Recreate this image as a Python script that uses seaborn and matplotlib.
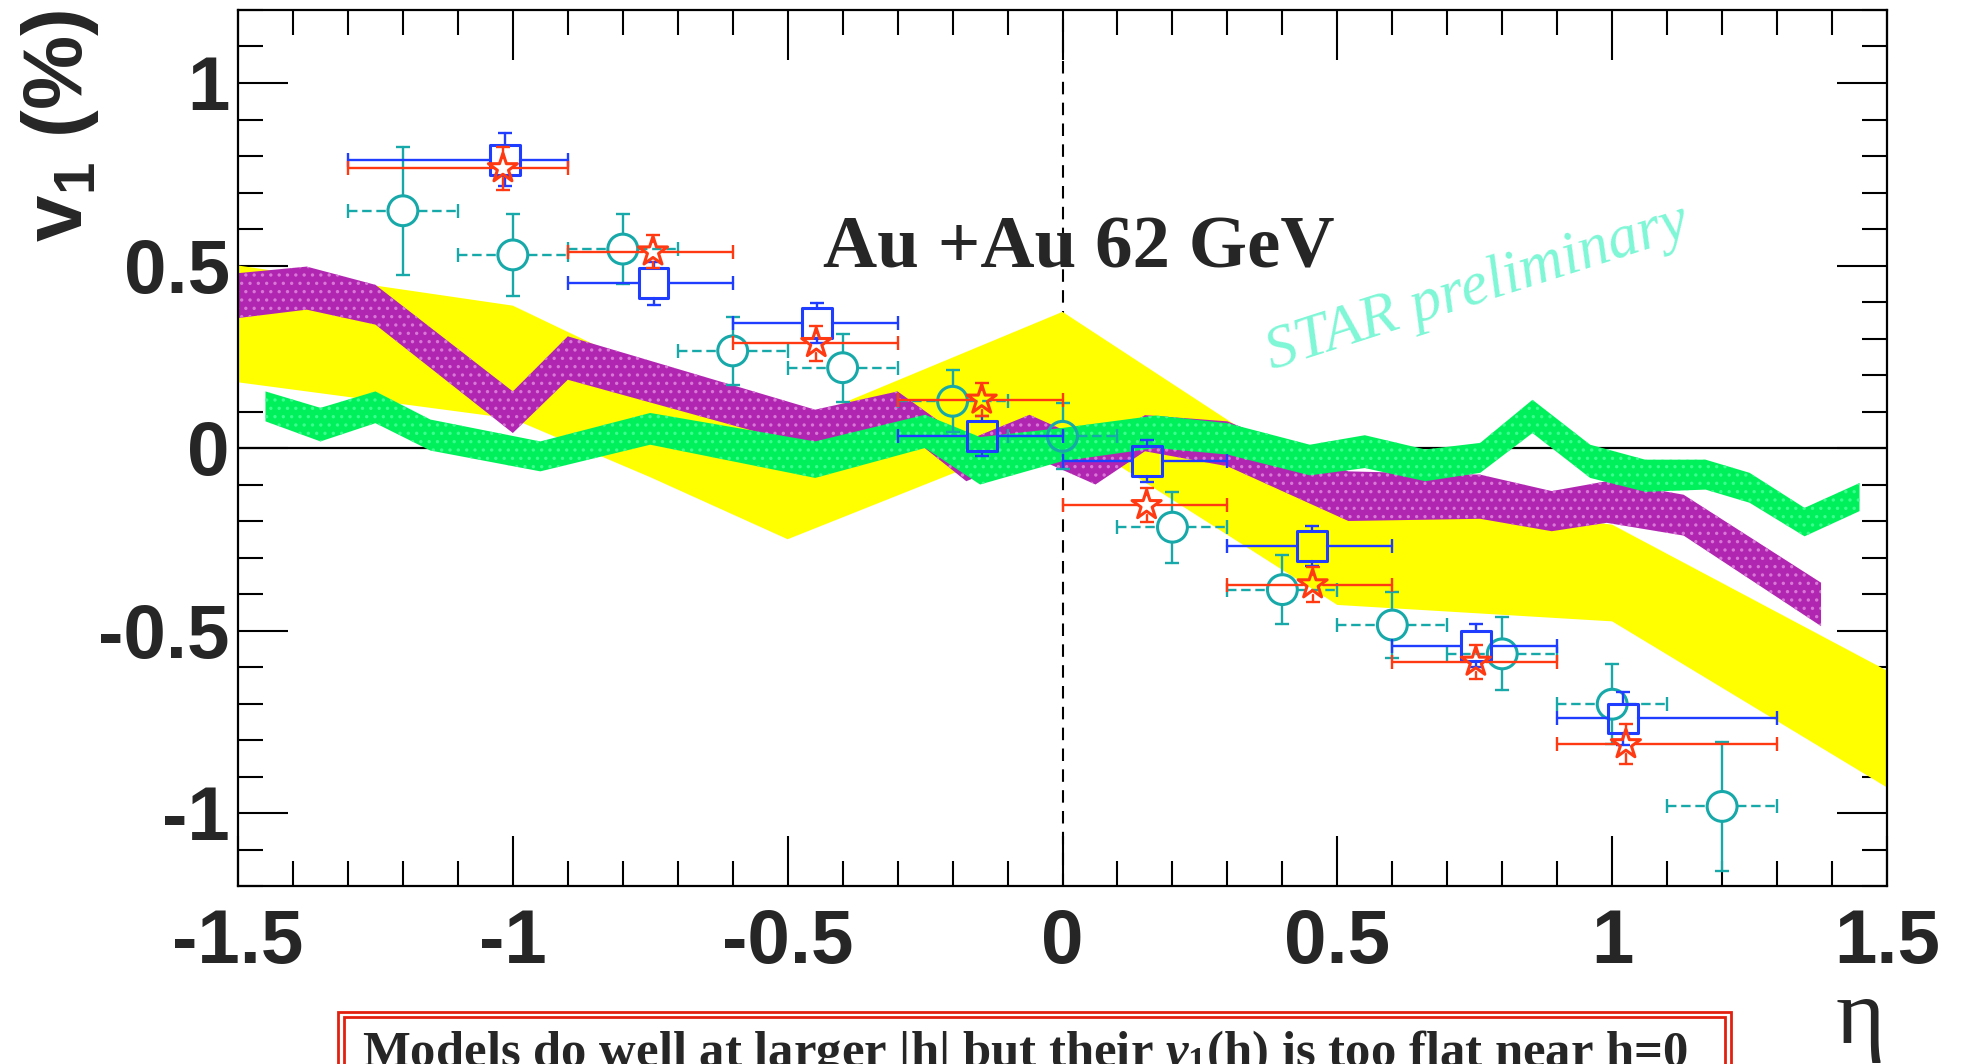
import matplotlib
matplotlib.use("Agg")
import matplotlib.pyplot as plt
import seaborn as sns
import numpy as np
from matplotlib.patches import Rectangle
from matplotlib.ticker import FixedLocator, FixedFormatter, MultipleLocator

# ---------------- data ----------------
# STAR data: cyan open circles
cyan_x = [-1.2, -1.0, -0.8, -0.6, -0.4, -0.2, 0.0, 0.2, 0.4, 0.6, 0.8, 1.0, 1.2]
cyan_y = [0.650, 0.529, 0.545, 0.266, 0.220, 0.128, 0.032, -0.217, -0.388, -0.485, -0.564, -0.702, -0.982]
cyan_yerr = [0.175, 0.112, 0.097, 0.093, 0.093, 0.085, 0.090, 0.097, 0.095, 0.090, 0.100, 0.110, 0.177]
cyan_xerr = [0.1, 0.1, 0.1, 0.1, 0.1, 0.1, 0.1, 0.1, 0.1, 0.1, 0.1, 0.1, 0.1]

# blue open squares
blue_x = [-1.014, -0.744, -0.446, -0.147, 0.154, 0.454, 0.752, 1.020]
blue_y = [0.790, 0.451, 0.342, 0.032, -0.035, -0.269, -0.542, -0.741]
blue_yerr = [0.072, 0.058, 0.055, 0.055, 0.057, 0.055, 0.059, 0.072]
bin_lo = [-1.3, -0.9, -0.6, -0.3, 0.0, 0.3, 0.6, 0.9]
bin_hi = [-0.9, -0.6, -0.3, 0.0, 0.3, 0.6, 0.9, 1.3]

# red open stars
red_x = [-1.018, -0.745, -0.448, -0.147, 0.153, 0.455, 0.752, 1.025]
red_y = [0.766, 0.538, 0.287, 0.132, -0.157, -0.374, -0.586, -0.812]
red_yerr = [0.058, 0.045, 0.048, 0.045, 0.047, 0.047, 0.046, 0.055]

# model bands
yel_x = [-1.5, -1.25, -1.0, -0.75, -0.5, 0.0, 0.5, 1.0, 1.5]
yel_hi = [0.50, 0.445, 0.39, 0.21, 0.06, 0.373, -0.12, -0.21, -0.61]
yel_lo = [0.18, 0.13, 0.08, -0.08, -0.25, 0.05, -0.43, -0.475, -0.93]

pur_x = [-1.5, -1.375, -1.25, -1.0, -0.9, -0.45, -0.3, -0.175, -0.06, 0.06, 0.15, 0.3, 0.52, 0.76, 0.89, 0.99, 1.13, 1.38]
pur_hi = [0.479, 0.497, 0.447, 0.155, 0.306, 0.105, 0.155, 0.02, 0.091, 0.01, 0.09, 0.073, -0.064, -0.073, -0.118, -0.091, -0.128, -0.369]
pur_lo = [0.356, 0.379, 0.338, 0.041, 0.187, 0.0, 0.059, -0.091, -0.02, -0.1, -0.009, -0.05, -0.2, -0.194, -0.228, -0.205, -0.24, -0.488]

grn_x = [-1.45, -1.35, -1.25, -1.15, -0.95, -0.75, -0.45, -0.25, -0.15, 0.0, 0.17, 0.3, 0.45, 0.55, 0.66, 0.76, 0.855, 0.96, 1.06, 1.17, 1.25, 1.35, 1.45]
grn_hi = [0.155, 0.11, 0.155, 0.078, 0.018, 0.096, 0.018, 0.091, 0.03, 0.055, 0.089, 0.068, 0.009, 0.035, -0.004, 0.014, 0.132, 0.009, -0.032, -0.032, -0.068, -0.164, -0.096]
grn_lo = [0.073, 0.018, 0.068, -0.007, -0.064, 0.009, -0.082, 0.0, -0.10, -0.036, 0.0, -0.018, -0.075, -0.055, -0.091, -0.068, 0.041, -0.082, -0.12, -0.114, -0.15, -0.242, -0.173]

xtick_vals = [-1.5, -1.0, -0.5, 0.0, 0.5, 1.0, 1.5]
xtick_labels = ["-1.5", "-1", "-0.5", "0", "0.5", "1", "1.5"]
ytick_vals = [-1.0, -0.5, 0.0, 0.5, 1.0]
ytick_labels = ["-1", "-0.5", "0", "0.5", "1"]

title_text = "Au +Au 62 GeV"
prelim_text = "STAR preliminary"
ylabel_text = r"$\mathbf{v_1}$ (%)"
xlabel_text = "\u03b7"
note_text = r"Models do well at larger |h| but their $v_1$(h) is too flat near h=0"

# ---------------- style ----------------
sns.set_style("ticks")
plt.rcParams.update({
    "font.family": ["Liberation Sans", "DejaVu Sans"],
    "mathtext.fontset": "custom",
    "mathtext.bf": "Liberation Sans:bold",
    "mathtext.it": "Liberation Serif:italic:bold",
    "mathtext.rm": "Liberation Serif:bold",
    "hatch.linewidth": 1.2,
})

W, H = 1962, 1064
fig = plt.figure(figsize=(W / 100, H / 100), dpi=100)
L, B, R, T = 238, 886, 1887, 10
ax = fig.add_axes([L / W, 1 - B / H, (R - L) / W, (B - T) / H])
ax.set_xlim(-1.5, 1.5)
ax.set_ylim(-1.2, 1.2)
px_x = 3.0 / (R - L)
px_y = 2.4 / (B - T)

# reference lines (below bands)
ax.axhline(0, color="black", lw=1.6, zorder=1.0)
ax.axvline(0, color="black", lw=1.5, ls=(0, (6, 4)), zorder=1.0)

# bands
ax.fill_between(yel_x, yel_lo, yel_hi, facecolor="#ffff00", edgecolor="none", lw=0, zorder=1.2)
ax.fill_between(pur_x, pur_lo, pur_hi, facecolor="#b126b0", edgecolor="#d977d8", hatch="..", lw=0, zorder=1.4)
ax.fill_between(grn_x, grn_lo, grn_hi, facecolor="#00f05c", edgecolor="#3bff8e", hatch="..", lw=0, zorder=1.6)


def draw_points(xs, ys, xlo, xhi, yerr, color, marker, ms_pt, gap_px, hdash, z):
    gx = gap_px * px_x
    gy = gap_px * px_y
    hls = (0, (4, 2)) if hdash else "-"
    for x, y, a, b, e in zip(xs, ys, xlo, xhi, yerr):
        ax.plot([a, x - gx], [y, y], color=color, lw=1.7, ls=hls, zorder=z)
        ax.plot([x + gx, b], [y, y], color=color, lw=1.7, ls=hls, zorder=z)
        ax.plot([x, x], [y + gy, y + e], color=color, lw=1.7, zorder=z)
        ax.plot([x, x], [y - e, y - gy], color=color, lw=1.7, zorder=z)
    ys_a = np.array(ys)
    ye_a = np.array(yerr)
    ax.plot(xlo, ys, ls="", marker="|", ms=10, mew=1.7, color=color, zorder=z)
    ax.plot(xhi, ys, ls="", marker="|", ms=10, mew=1.7, color=color, zorder=z)
    ax.plot(xs, ys_a + ye_a, ls="", marker="_", ms=10, mew=1.7, color=color, zorder=z)
    ax.plot(xs, ys_a - ye_a, ls="", marker="_", ms=10, mew=1.7, color=color, zorder=z)
    sns.scatterplot(x=xs, y=ys, marker=marker, s=ms_pt ** 2, facecolor="none",
                    edgecolor=color, linewidth=2.2, ax=ax, zorder=z + 0.1, legend=False)


cx = np.array(cyan_x)
cxe = np.array(cyan_xerr)
draw_points(cyan_x, cyan_y, cx - cxe, cx + cxe, cyan_yerr, "#17a9a9", "o", 21.5, 15, True, 3.0)
draw_points(blue_x, blue_y, bin_lo, bin_hi, blue_yerr, "#1f3dff", "s", 21.5, 15, False, 3.5)
draw_points(red_x, red_y, bin_lo, bin_hi, red_yerr, "#ff3a12", "*", 22, 10, False, 4.0)

# axes styling
ax.xaxis.set_major_locator(FixedLocator(xtick_vals))
ax.xaxis.set_major_formatter(FixedFormatter(xtick_labels))
ax.yaxis.set_major_locator(FixedLocator(ytick_vals))
ax.yaxis.set_major_formatter(FixedFormatter(ytick_labels))
ax.xaxis.set_minor_locator(MultipleLocator(0.1))
ax.yaxis.set_minor_locator(MultipleLocator(0.1))
ax.tick_params(which="both", direction="in", top=True, right=True, width=1.5, color="black")
ax.tick_params(which="major", length=36)
ax.tick_params(which="minor", length=18)
ax.tick_params(axis="x", which="major", pad=16, labelsize=55)
ax.tick_params(axis="y", which="major", pad=6, labelsize=55)
for lab in ax.get_xticklabels() + ax.get_yticklabels():
    lab.set_fontweight("bold")
    lab.set_family("Liberation Sans")
for sp in ax.spines.values():
    sp.set_linewidth(1.6)
    sp.set_color("black")
    sp.set_visible(True)

# texts
fig.text(823 / W, 1 - 267 / H, title_text, family="Liberation Serif", fontweight="bold",
         fontsize=54, ha="left", va="baseline")
fig.text(1272 / W, 1 - 370 / H, prelim_text, family="Liberation Serif", style="italic",
         fontsize=44.5, color="#7ff7d6", rotation=17.8, rotation_mode="anchor",
         ha="left", va="baseline")
fig.text(60 / W, 1 - 10 / H, ylabel_text, rotation=90, ha="center", va="top",
         fontsize=60, fontweight="bold", family="Liberation Sans")
fig.text(1860 / W, 1 - 1043 / H, xlabel_text, family="Liberation Serif", fontsize=68,
         ha="center", va="baseline")

# bottom note with red double frame
red = "#e2200e"
fig.add_artist(Rectangle((338 / W, -0.1), (1731 - 338) / W, 0.1 + 1 - 1012 / H,
                         transform=fig.transFigure, fill=False, ec=red, lw=2.0))
fig.add_artist(Rectangle((344 / W, -0.1), (1725 - 344) / W, 0.1 + 1 - 1017 / H,
                         transform=fig.transFigure, fill=False, ec=red, lw=2.0))
fig.text(362 / W, 1 - 1066 / H, note_text, family="Liberation Serif", fontweight="bold",
         fontsize=36.5, ha="left", va="baseline")

fig.savefig("out.png", dpi=100)
